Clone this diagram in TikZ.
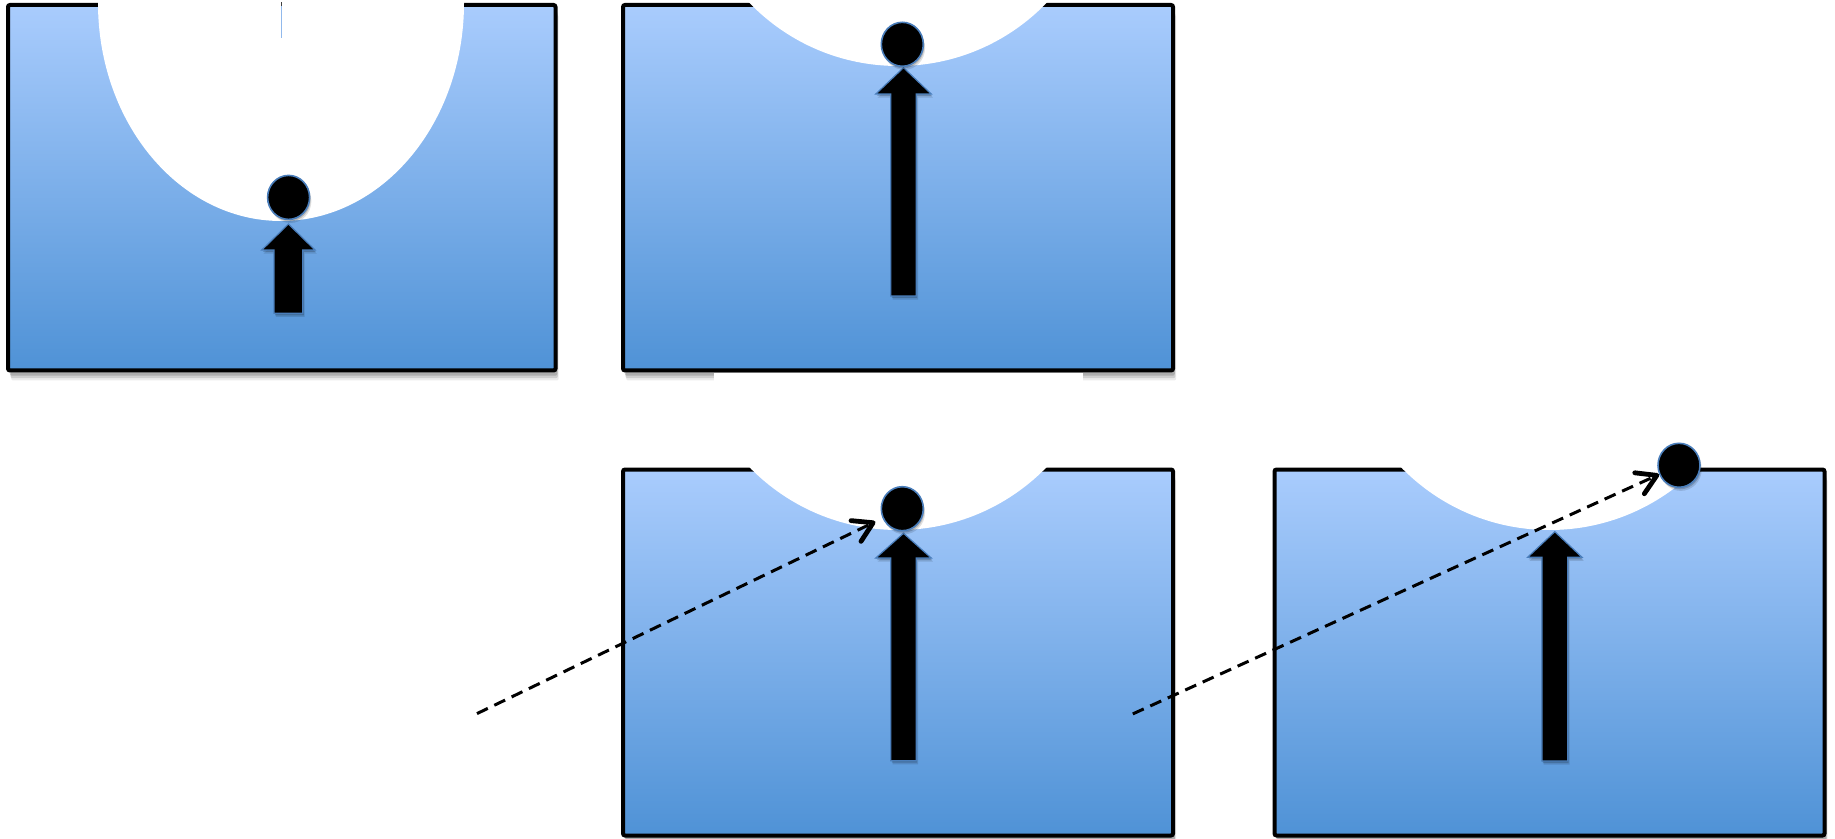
\documentclass[tikz,border=0pt]{standalone}
\usetikzlibrary{arrows.meta,shapes.geometric,shadows}
\definecolor{bluetop}{RGB}{169,204,253}
\definecolor{bluebot}{RGB}{79,146,214}
\definecolor{edgeblue}{RGB}{74,126,187}
\newcommand\blockarr[6]{%
  \draw[blockarrow] (#1,#2) -- (#1+#5,#3) -- (#1+#6,#3) -- (#1+#6,#4)
    -- (#1-#6,#4) -- (#1-#6,#3) -- (#1-#5,#3) -- cycle;}
\begin{document}
\begin{tikzpicture}[x=0.5pt,y=-0.5pt,
  boxnode/.style={rectangle, draw=black, line width=2pt, rounded corners=1pt,
    top color=bluetop, bottom color=bluebot, inner sep=0pt,
    general shadow={fill=black, opacity=0.08, shadow xshift=1.6pt, shadow yshift=-5pt},
    general shadow={fill=black, opacity=0.12, shadow xshift=1.2pt, shadow yshift=-3.8pt},
    general shadow={fill=black, opacity=0.16, shadow xshift=0.9pt, shadow yshift=-2.6pt}},
  smallshadow/.style={general shadow={fill=black, opacity=0.12, shadow xshift=0.9pt, shadow yshift=-1.8pt},
    general shadow={fill=black, opacity=0.18, shadow xshift=0.5pt, shadow yshift=-1pt}},
  blockarrow/.style={fill=black, draw=edgeblue, line width=0.6pt, smallshadow},
  ball/.style={ellipse, fill=black, draw=edgeblue, line width=0.8pt, inner sep=0pt,
    minimum width=21pt, minimum height=22pt, smallshadow},
  dasharrow/.style={draw=black, line width=1.5pt, dash pattern=on 6pt off 3.6pt,
    -{Straight Barb[length=9.5pt,width=11.5pt,line width=2.4pt,round]}}]
\useasboundingbox (0,0) rectangle (1835,839);

% boxes
\node[boxnode, minimum width=273.75pt, minimum height=182.75pt] (b1) at (281.75,187.75) {};
\node[boxnode, minimum width=275pt, minimum height=182.75pt] (b2) at (898,187.75) {};
\node[boxnode, minimum width=275pt, minimum height=183pt] (b3) at (898,652.5) {};
\node[boxnode, minimum width=275pt, minimum height=183pt] (b4) at (1549.5,652.5) {};

% cut-outs
\fill[white] (281,3) ellipse [x radius=183, y radius=218];
\fill[white] (898,-140.4) circle [radius=206.4];
\begin{scope}
  \clip (600,462) rectangle (1835,839);
  \fill[white] (898,322.9) circle [radius=207.1];
  \fill[white] (1549.5,322.9) circle [radius=207.1];
\end{scope}

% white strip hiding part of the shadow under box 2
\fill[white] (713.6,372.8) rectangle (1082.8,392);

% thin mark in box 1
\draw[bluetop!75!edgeblue, line width=0.5pt] (281,6) -- (281,38);
\draw[black!75, line width=0.5pt] (281,2.5) -- (281,6);

% block arrows
\blockarr{288.4}{224}{250}{313.3}{26.6}{14.4}
\blockarr{903.5}{67.7}{94}{296}{27.7}{12.7}
\blockarr{903.5}{533.3}{558}{760.7}{27.7}{12.7}
\blockarr{1554.8}{531.7}{557.3}{761}{27.2}{12.9}

% balls
\node[ball] (c1) at (288.6,197.4) {};
\node[ball] (c2) at (902.3,44.3) {};
\node[ball] (c3) at (902.3,508.7) {};
\node[ball] (c4) at (1679,465.3) {};

% dashed arrows
\coordinate (s3) at (477,713.6);
\coordinate (s4) at (1132.8,713.9);
\draw[dasharrow, shorten >=4pt] (s3) -- (c3);
\draw[dasharrow] (s4) -- (c4);
\end{tikzpicture}
\end{document}
